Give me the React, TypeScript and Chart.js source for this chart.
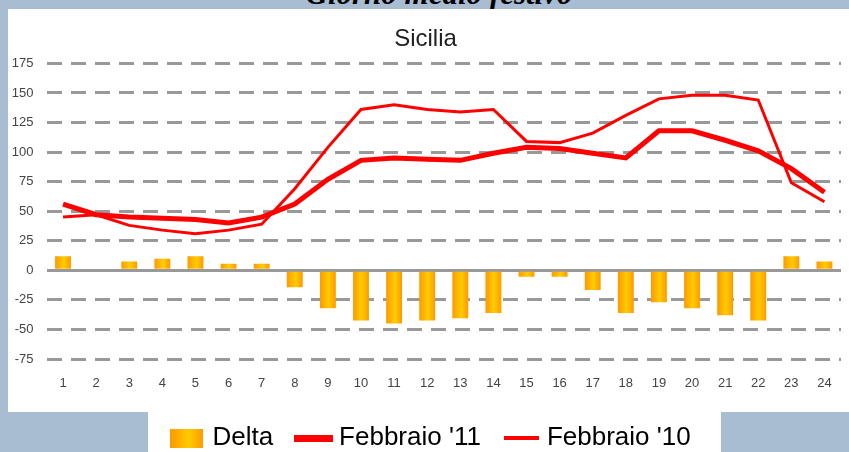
import React, { useEffect, useRef } from 'react';
import { Chart, registerables } from 'chart.js';

Chart.register(...registerables);

const hours = ['1', '2', '3', '4', '5', '6', '7', '8', '9', '10', '11', '12', '13', '14', '15', '16', '17', '18', '19', '20', '21', '22', '23', '24'];
const delta = [12, 0, 7.5, 9.7, 12, 5.6, 5.6, -14.4, -32, -42.5, -45, -42.5, -40.5, -36, -5.5, -5.5, -16.7, -36, -27, -32, -38, -42.5, 12, 7.5];
const feb11 = [56, 47, 45, 44, 43, 40, 45, 56, 77, 93, 95, 94, 93, 99, 104, 103, 99, 95, 118, 118, 110, 101, 86, 66];
const feb10 = [45, 47, 38, 34, 31, 34, 39, 69, 104, 136, 140, 136, 134, 136, 109, 108, 116, 131, 145, 148, 148, 144, 74, 58];
const seriesNames = ['Delta', "Febbraio '11", "Febbraio '10"];
const chartTitle = 'Sicilia';
const pageHeading = 'Giorno medio festivo';

const RED = '#ff0000';

function makeSwatch(w: number, h: number, paint: (c: CanvasRenderingContext2D) => void) {
  const cv = document.createElement('canvas');
  cv.width = w;
  cv.height = h;
  const c = cv.getContext('2d');
  if (c) paint(c);
  return cv;
}

function orangeGradient(c: CanvasRenderingContext2D, x0: number, x1: number) {
  const g = c.createLinearGradient(x0, 0, x1, 0);
  g.addColorStop(0, '#ff9900');
  g.addColorStop(0.55, '#ffcc00');
  g.addColorStop(1, '#ff9900');
  return g;
}

// nudges the legend row a few pixels to the right, as in the reference
const legendShift = {
  id: 'legendShift',
  afterLayout(chart: any) {
    if (chart.legend) {
      chart.legend.left += 7;
      chart.legend.right += 7;
    }
  },
};

export default function App() {
  const ref = useRef<HTMLCanvasElement | null>(null);

  useEffect(() => {
    if (!ref.current) return;
    const deltaSwatch = makeSwatch(33, 19, (c) => {
      c.fillStyle = orangeGradient(c, 0, 33);
      c.fillRect(0, 0, 33, 19);
    });
    const thickSwatch = makeSwatch(39, 7, (c) => {
      c.fillStyle = RED;
      c.fillRect(0, 0, 39, 7);
    });
    const thinSwatch = makeSwatch(35, 4, (c) => {
      c.fillStyle = RED;
      c.fillRect(0, 0, 35, 4);
    });

    const chart = new Chart(ref.current, {
      type: 'bar',
      plugins: [legendShift],
      data: {
        labels: hours,
        datasets: [
          {
            type: 'bar',
            label: seriesNames[0],
            data: delta,
            order: 3,
            barPercentage: 0.48,
            categoryPercentage: 1,
            borderWidth: 0,
            backgroundColor: (ctx: any) => {
              const ch = ctx.chart;
              const xs = ch.scales && ch.scales.x;
              if (!xs || ctx.dataIndex == null) return '#ffb300';
              const cx = xs.getPixelForValue(ctx.dataIndex);
              const half = (xs.width / hours.length) * 0.48 / 2;
              return orangeGradient(ch.ctx, cx - half, cx + half);
            },
          },
          {
            type: 'line',
            label: seriesNames[1],
            data: feb11,
            order: 1,
            borderColor: RED,
            backgroundColor: RED,
            borderWidth: 5,
            pointRadius: 0,
            tension: 0,
            fill: false,
          },
          {
            type: 'line',
            label: seriesNames[2],
            data: feb10,
            order: 2,
            borderColor: RED,
            backgroundColor: RED,
            borderWidth: 3,
            pointRadius: 0,
            tension: 0,
            fill: false,
          },
        ],
      } as any,
      options: {
        animation: false,
        responsive: false,
        devicePixelRatio: 1,
        layout: { padding: { left: 2, right: 8, top: 0, bottom: 0 } },
        plugins: {
          tooltip: { enabled: false },
          title: {
            display: true,
            text: chartTitle,
            color: '#222',
            font: { family: 'Arial', size: 24, weight: 'normal' },
            padding: { top: 15.6, bottom: 10 },
          },
          legend: {
            position: 'bottom',
            labels: {
              usePointStyle: true,
              pointStyleWidth: 25,
              boxHeight: 25,
              padding: 28,
              color: '#000',
              font: { family: 'Arial', size: 26 },
              generateLabels: () => {
                const sw = [deltaSwatch, thickSwatch, thinSwatch];
                return seriesNames.map((t, i) => ({
                  text: t,
                  fillStyle: i === 0 ? '#ffb300' : RED,
                  strokeStyle: 'rgba(0,0,0,0)',
                  lineWidth: 0,
                  hidden: false,
                  datasetIndex: i,
                  pointStyle: sw[i] as any,
                  fontColor: '#000',
                })) as any;
              },
            },
          },
        },
        scales: {
          x: {
            offset: true,
            grid: { display: false, drawTicks: false },
            border: { display: false },
            ticks: {
              color: '#444',
              font: { family: 'Arial', size: 13 },
              padding: 17,
              maxRotation: 0,
              autoSkip: false,
            },
            afterFit: (s: any) => {
              s.height = 38;
            },
          },
          y: {
            min: -75,
            max: 175,
            grid: {
              color: '#999',
              lineWidth: 3,
              drawTicks: false,
            },
            border: {
              display: false,
              dash: (ctx: any) => (ctx.tick && ctx.tick.value === 0 ? [] : [15, 9]),
            },
            ticks: {
              stepSize: 25,
              color: '#444',
              font: { family: 'Arial', size: 13 },
              padding: 13,
            },
            afterFit: (s: any) => {
              s.width = 36.5;
            },
          },
        },
      } as any,
    });
    return () => chart.destroy();
  }, []);

  return (
    <div
      style={{
        position: 'fixed',
        left: 0,
        top: 0,
        width: 849,
        height: 452,
        overflow: 'hidden',
        background: '#a9bdd2',
      }}
    >
      <div
        style={{
          position: 'absolute',
          left: 0,
          top: -22,
          width: 878,
          textAlign: 'center',
          fontFamily: '"Liberation Serif", "Times New Roman", serif',
          fontStyle: 'italic',
          fontWeight: 'bold',
          fontSize: 31,
          lineHeight: '31px',
          color: '#000',
          whiteSpace: 'nowrap',
        }}
      >
        {pageHeading}
      </div>
      <div style={{ position: 'absolute', left: 8, top: 9, width: 841, height: 403, background: '#fff' }} />
      <div style={{ position: 'absolute', left: 148, top: 412, width: 573, height: 40, background: '#fff' }} />
      <canvas
        ref={ref}
        width={841}
        height={452}
        style={{ position: 'absolute', left: 8, top: 9, width: 841, height: 452 }}
      />
    </div>
  );
}
